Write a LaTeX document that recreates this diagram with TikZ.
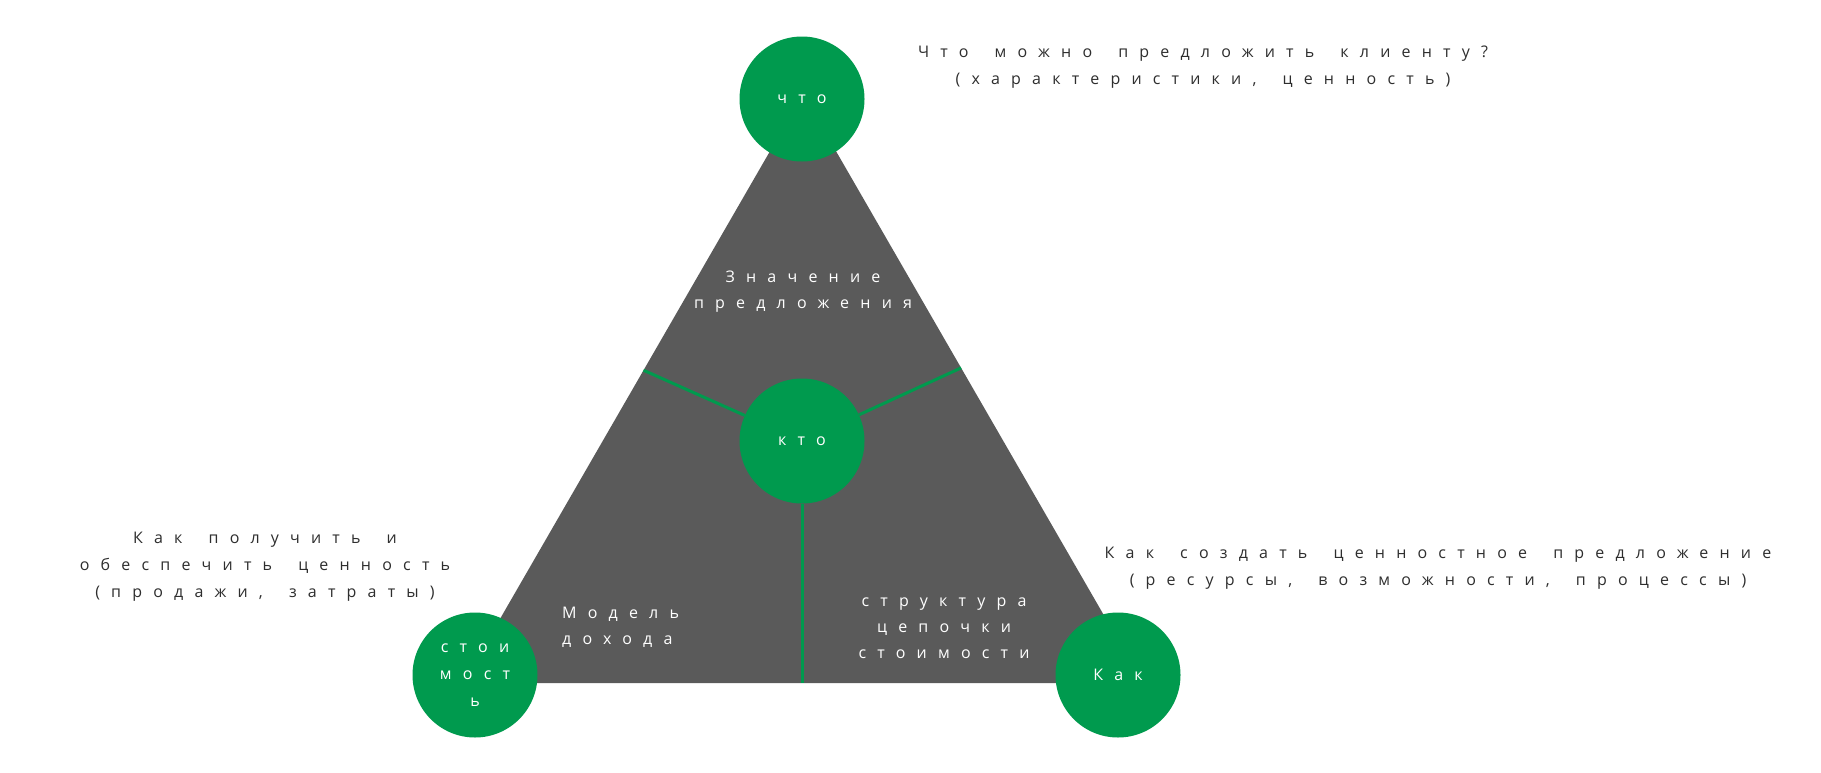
\documentclass[tikz,border=0pt]{standalone}
\usepackage{fontspec}
\setmainfont{Open Sans}
\newfontfamily\widefont[LetterSpace=70, WordSpace=1.7]{Open Sans}
\usepackage{xcolor}
\usepackage{tikz}
\usetikzlibrary{
  positioning,
  calc
}
\definecolor{hubgreen}{HTML}{009A4E}
\definecolor{trigray}{HTML}{5A5A5A}
\definecolor{notegray}{HTML}{2E2E2E}
\tikzset{
  hubnode/.style={
    fill=hubgreen,
    circle,
    minimum size=125pt,
    inner sep=0pt,
    text=white,
    align=center,
    font=\widefont\fontsize{16}{27}\selectfont,
  },
  inlabel/.style={
    text=white,
    align=center,
    inner sep=0pt,
    font=\widefont\fontsize{16}{26}\selectfont,
  },
  note/.style={
    text=notegray,
    align=center,
    inner sep=0pt,
    font=\widefont\fontsize{16}{27}\selectfont,
  },
  spoke/.style={
    draw=hubgreen,
    line width=3pt,
  },
}

\begin{document}
\begin{tikzpicture}[
  x=1pt, y=-1pt,
]
  \useasboundingbox[fill=white] (0,0) rectangle (1821,772);

  % --- Triangle ---
  \coordinate (apex) at (803,94);
  \coordinate (bl)   at (463,683);
  \coordinate (br)   at (1143,683);
  \fill[trigray] (apex) -- (bl) -- (br) -- cycle;

  % --- Corner hubs ---
  \node[hubnode] (chto) at (802,99)   {что};
  \node[hubnode] (kto)  at (802,441)  {кто};
  \node[hubnode] (cost) at (475,675)  {стои\\мост\\ь};
  \node[hubnode] (kak)  at (1118,675) {Как};

  % --- Spokes from the middle ---
  \coordinate (lfoot) at ($(apex)!0.469!(bl)$);
  \coordinate (rfoot) at ($(apex)!0.465!(br)$);
  \coordinate (bfoot) at (kto |- bl);
  \draw[spoke] (kto) -- (lfoot);
  \draw[spoke] (kto) -- (rfoot);
  \draw[spoke] (kto) -- (bfoot);

  % --- Labels inside the triangle ---
  \node[inlabel] (value)  at (803,292) {Значение\\предложения};
  \node[inlabel, anchor=west, align=left] (income) at (562,627) {Модель\\дохода};
  \node[inlabel] (chain)  at (944,628) {структура\\цепочки\\стоимости};

  % --- Notes outside ---
  \node[note] (whatnote) at (1203,67)  {Что можно предложить клиенту?\\(характеристики, ценность)};
  \node[note] (hownote)  at (1438,568) {Как создать ценностное предложение\\(ресурсы, возможности, процессы)};
  \node[note] (costnote) at (265,567)  {Как получить и\\обеспечить ценность\\(продажи, затраты)};
\end{tikzpicture}
\end{document}
